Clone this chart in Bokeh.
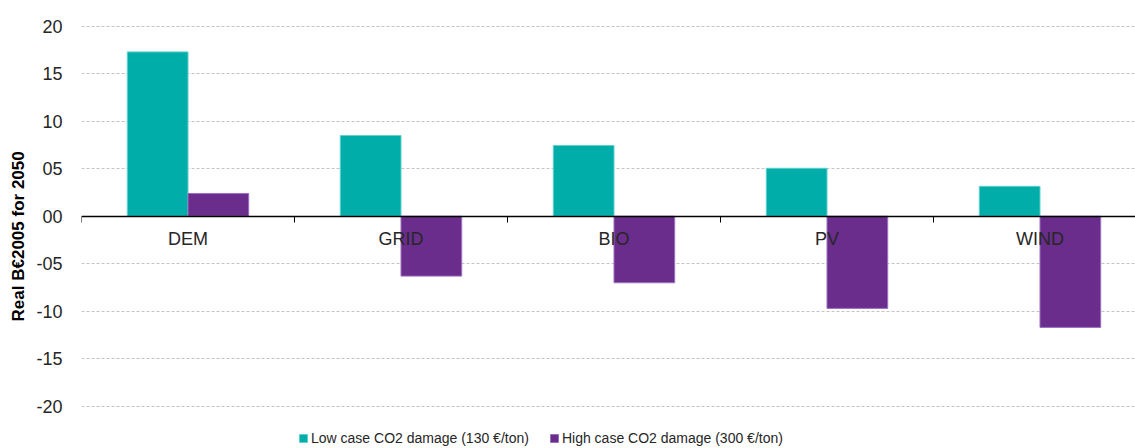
import numpy as np
from bokeh.plotting import figure
from bokeh.models import (ColumnDataSource, Range1d, FixedTicker, Legend, LegendItem,
                          LinearAxis)
from bokeh.embed import file_html
from bokeh.resources import INLINE

categories = ["DEM", "GRID", "BIO", "PV", "WIND"]
low_case = [17.3, 8.5, 7.45, 5.05, 3.15]
high_case = [2.4, -6.3, -7.0, -9.7, -11.7]
series_names = ["Low case CO2 damage (130 €/ton)", "High case CO2 damage (300 €/ton)"]
y_ticks = [-20, -15, -10, -5, 0, 5, 10, 15, 20]
y_tick_labels = ["-20", "-15", "-10", "-05", "00", "05", "10", "15", "20"]
y_title = "Real B€2005  for 2050"

TEAL = "#00ADA9"
PURPLE = "#6A2D8C"
FONT = "Liberation Sans"
TXT = "#262626"

n = len(categories)
centers = np.arange(n) + 0.5
bw = 0.285
src = ColumnDataSource(dict(
    xl=centers - bw / 2, xh=centers + bw / 2,
    low=low_case, high=high_case, cat=categories))

FW = 1054
p = figure(frame_width=FW, frame_height=425,
           x_range=Range1d(0, FW / 213.0), y_range=Range1d(20.5 - 425 / 9.5, 20.5),
           output_backend="svg", toolbar_location=None,
           min_border_left=81, min_border_right=0, min_border_top=21,
           min_border_bottom=0, x_axis_location=None, y_axis_location=None)
p.outline_line_color = None
p.background_fill_color = "white"

r1 = p.vbar(x="xl", top="low", bottom=0, width=bw, source=src,
            fill_color=TEAL, line_color="#5fd0cc", line_width=1)
r2 = p.vbar(x="xh", top="high", bottom=0, width=bw, source=src,
            fill_color=PURPLE, line_color="#9a6fc0", line_width=1)

# y axis
yax = LinearAxis(ticker=FixedTicker(ticks=y_ticks))
yax.major_label_overrides = {t: l for t, l in zip(y_ticks, y_tick_labels)}
yax.axis_line_color = None
yax.major_tick_line_color = None
yax.minor_tick_line_color = None
yax.major_label_text_font = FONT
yax.major_label_text_font_size = "18px"
yax.major_label_text_color = TXT
yax.major_label_standoff = 13
yax.axis_label = y_title
yax.axis_label_text_font = FONT
yax.axis_label_text_font_style = "bold"
yax.axis_label_text_font_size = "17px"
yax.axis_label_text_color = "black"
yax.axis_label_standoff = 5
p.add_layout(yax, "left")

# x axis at zero: labels at category centers, ticks at boundaries
xax = LinearAxis(ticker=FixedTicker(ticks=list(centers), minor_ticks=list(np.arange(n + 1))))
xax.fixed_location = 0
xax.major_label_overrides = {float(c): cat for c, cat in zip(centers, categories)}
xax.axis_line_color = "black"
xax.axis_line_width = 1.3
xax.major_tick_line_color = None
xax.minor_tick_line_color = "black"
xax.minor_tick_out = 6
xax.minor_tick_in = 0
xax.major_label_text_font = FONT
xax.major_label_text_font_size = "18px"
xax.major_label_text_color = TXT
xax.major_label_standoff = 7
p.add_layout(xax, "below")

p.ygrid.ticker = FixedTicker(ticks=y_ticks)
p.ygrid.grid_line_color = "#c4c4c4"
p.ygrid.grid_line_dash = "3 2"
p.ygrid.grid_line_width = 1
p.xgrid.grid_line_color = None

legend = Legend(items=[LegendItem(label=series_names[0], renderers=[r1]),
                       LegendItem(label=series_names[1], renderers=[r2])],
                orientation="horizontal", location=(217, 0),
                label_text_font=FONT, label_text_font_size="14px",
                label_text_color=TXT, glyph_width=10, glyph_height=10,
                label_standoff=3, spacing=20, padding=0, margin=0,
                border_line_color=None, background_fill_alpha=0)
p.add_layout(legend, "center")

open("out.html", "w").write(file_html(p, INLINE))
